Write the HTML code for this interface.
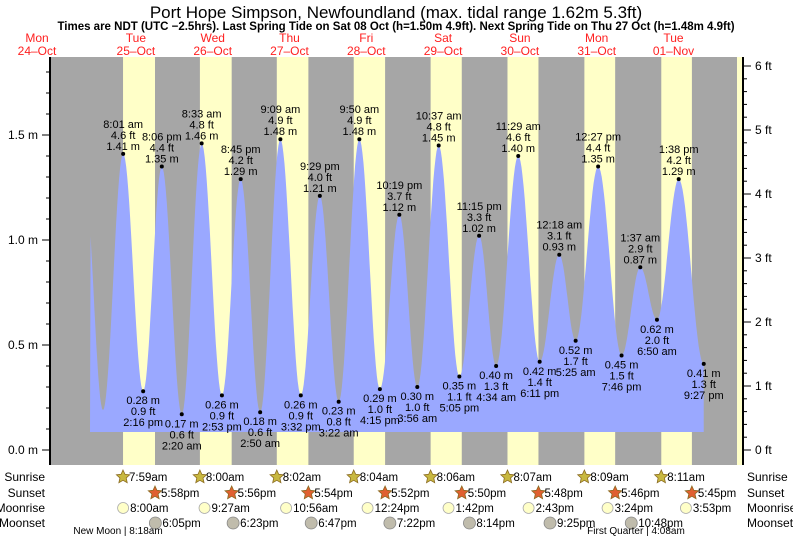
<!DOCTYPE html>
<html><head><meta charset="utf-8"><style>
body{margin:0;background:#fff;}
svg{display:block;font-family:"Liberation Sans",sans-serif;}
</style></head><body>
<svg id="c" width="793" height="539"></svg>
<script>
// tide extremes: day offset from 25-Oct, hour (decimal), height m, label time, ft
const tideDays=[-1,0,0,0,0,1,1,1,1,2,2,2,2,3,3,3,3,4,4,4,4,5,5,5,6,6,6,6,7,7,7,7];
const tideHours=[19.75,1.72,8.02,14.27,20.1,2.33,8.55,14.88,20.75,2.83,9.15,15.53,21.48,3.37,9.83,16.25,22.32,3.93,10.62,17.08,23.25,4.57,11.48,18.18,0.3,5.42,12.45,19.77,1.62,6.83,13.63,21.45];
const tideHeights=[1.33,0.19,1.41,0.28,1.35,0.17,1.46,0.26,1.29,0.18,1.48,0.26,1.21,0.23,1.48,0.29,1.12,0.30,1.45,0.35,1.02,0.40,1.40,0.42,0.93,0.52,1.35,0.45,0.87,0.62,1.29,0.41];
const tideTimes=["","","8:01 am","2:16 pm","8:06 pm","2:20 am","8:33 am","2:53 pm","8:45 pm","2:50 am","9:09 am","3:32 pm","9:29 pm","3:22 am","9:50 am","4:15 pm","10:19 pm","3:56 am","10:37 am","5:05 pm","11:15 pm","4:34 am","11:29 am","6:11 pm","12:18 am","5:25 am","12:27 pm","7:46 pm","1:37 am","6:50 am","1:38 pm","9:27 pm"];
const tideFt=["","","4.6","0.9","4.4","0.6","4.8","0.9","4.2","0.6","4.9","0.9","4.0","0.8","4.9","1.0","3.7","1.0","4.8","1.1","3.3","1.3","4.6","1.4","3.1","1.7","4.4","1.5","2.9","2.0","4.2","1.3"];
const dayNames=["Mon","Tue","Wed","Thu","Fri","Sat","Sun","Mon","Tue"];
const dayDates=["24\u2013Oct","25\u2013Oct","26\u2013Oct","27\u2013Oct","28\u2013Oct","29\u2013Oct","30\u2013Oct","31\u2013Oct","01\u2013Nov"];
const sunriseH=[7.98,8.0,8.03,8.07,8.1,8.12,8.15,8.18];
const sunriseL=["7:59am","8:00am","8:02am","8:04am","8:06am","8:07am","8:09am","8:11am"];
const sunsetH=[17.97,17.93,17.9,17.87,17.83,17.8,17.77,17.75];
const sunsetL=["5:58pm","5:56pm","5:54pm","5:52pm","5:50pm","5:48pm","5:46pm","5:45pm"];
const moonriseH=[8.0,9.45,10.93,12.4,13.7,14.72,15.4,15.88];
const moonriseL=["8:00am","9:27am","10:56am","12:24pm","1:42pm","2:43pm","3:24pm","3:53pm"];
const moonsetH=[18.08,18.38,18.78,19.37,20.23,21.42,22.8];
const moonsetL=["6:05pm","6:23pm","6:47pm","7:22pm","8:14pm","9:25pm","10:48pm"];

const X0=97.5,DAY=76.8;
const tx=(d,h)=>X0+(d+h/24)*DAY;
const ym=h=>450-h*210;
const ns="http://www.w3.org/2000/svg";
const svg=document.getElementById('c');
function mk(t,a,p){const e=document.createElementNS(ns,t);for(const k in a)e.setAttribute(k,a[k]);(p||svg).appendChild(e);return e;}
function txt(s,x,y,a){const e=mk('text',Object.assign({x:x,y:y,'font-size':11,fill:'#000'},a||{}));e.textContent=s;return e;}

// background plot
const PL=50,PR=743,PT=57,PB=465;
const bg=mk('rect',{x:PL,y:PT,width:737-PL,height:PB-PT,fill:'#a6a6a6'});

const ry=mk('rect',{x:737,y:PT,width:PR-737,height:PB-PT,fill:'#ffffc8'});

for(let i=0;i<sunriseH.length;i++){
  const r=mk('rect',{x:tx(i,sunriseH[i]),y:PT,width:tx(i,sunsetH[i])-tx(i,sunriseH[i]),height:PB-PT,fill:'#ffffc8'});
  
}
// tide curve
const xs=tideDays.map((d,i)=>tx(d,tideHours[i]));
let pts=[];
const xStart=90,xEnd=xs[xs.length-1];
for(let i=0;i<xs.length-1;i++){
  for(let s=0;s<=20;s++){
    const f=s/20,x=xs[i]+(xs[i+1]-xs[i])*f;
    if(x<xStart) continue;
    const h=tideHeights[i]+(tideHeights[i+1]-tideHeights[i])*(1-Math.cos(Math.PI*f))/2;
    pts.push([x,ym(h)]);
  }
}
const base=432;
let d='M'+xStart+','+base+' '+pts.map(p=>'L'+p[0].toFixed(1)+','+p[1].toFixed(1)).join(' ')+' L'+xEnd+','+base+'Z';
const area=mk('path',{d:d,fill:'#9aa8ff'});


// labels
for(let i=2;i<xs.length;i++){
  const x=xs[i],y=ym(tideHeights[i]);
  const dot=mk('circle',{cx:x,cy:y,r:2,fill:'#000'});
  
  const hi=tideHeights[i]>tideHeights[i-1];
  const m=tideHeights[i].toFixed(2)+' m',f=tideFt[i]+' ft';
  const g=mk('g',{'text-anchor':'middle'});
  
  if(hi){txt(tideTimes[i],x,y-27,{}).remove();g.appendChild(txt(tideTimes[i],x,y-26));g.appendChild(txt(f,x,y-15));g.appendChild(txt(m,x,y-4));}
  else{g.appendChild(txt(m,x,y+13));g.appendChild(txt(f,x,y+24));g.appendChild(txt(tideTimes[i],x,y+35));}
}
// axes
const ax=mk('g',{});
mk('line',{x1:PL,y1:PT,x2:PL,y2:PB,stroke:'#000','stroke-width':2},ax);
for(let v=0;v<=1.9;v+=0.1){const y=ym(v);if(y<PT)break;mk('line',{x1:PL-(Math.round(v*10)%5==0?8:4),y1:y,x2:PL,y2:y,stroke:'#000'},ax);}
[0,0.5,1.0,1.5].forEach(v=>{const t=txt(v.toFixed(1)+' m',PL-12,ym(v)+4,{'text-anchor':'end','font-size':12});ax.appendChild(t);});
const ax2=mk('g',{});
mk('line',{x1:PR,y1:PT,x2:PR,y2:PB,stroke:'#000','stroke-width':2},ax2);
for(let k=0;k<=31;k++){const y=450-k*0.2*64;if(y<PT)break;mk('line',{x1:PR,y1:y,x2:PR+(k%5==0?8:4),y2:y,stroke:'#000'},ax2);}
for(let k=0;k<=6;k++){ax2.appendChild(txt(k+' ft',PR+12,450-k*64+4,{'font-size':12}));}

// titles
const t1=txt('Port Hope Simpson, Newfoundland (max. tidal range 1.62m 5.3ft)',396,18,{'text-anchor':'middle','font-size':17});

const t2=txt('Times are NDT (UTC \u22122.5hrs). Last Spring Tide on Sat 08 Oct (h=1.50m 4.9ft). Next Spring Tide on Thu 27 Oct (h=1.48m 4.9ft)',396,30,{'text-anchor':'middle','font-size':11.5,'font-weight':'bold'});

for(let i=0;i<dayNames.length;i++){
  const x=tx(i-1,12)+ (i==0?-0:0);
  const g=mk('g',{'text-anchor':'middle',fill:'#ff2020'});
  
  g.appendChild(txt(dayNames[i],i==0?37:x,42,{fill:'#ff2020','font-size':12}));
  g.appendChild(txt(dayDates[i],i==0?37:x,55,{fill:'#ff2020','font-size':12}));
}
// bottom rows
const rows=[['Sunrise',481],['Sunset',497],['Moonrise',512],['Moonset',527]];
rows.forEach(r=>{
  const a=txt(r[0],45,r[1],{'text-anchor':'end','font-size':12});
  const b=txt(r[0],747,r[1],{'font-size':12});
});
function star(x,y,fill){const p=[];for(let k=0;k<10;k++){const a=-Math.PI/2+k*Math.PI/5,rr=k%2?3.3:7;p.push((x+rr*Math.cos(a)).toFixed(1)+','+(y+rr*Math.sin(a)).toFixed(1));}return mk('polygon',{points:p.join(' '),fill:fill,stroke:'#8a6a20','stroke-width':0.8});}
for(let i=0;i<sunriseH.length;i++){
  let x=tx(i,sunriseH[i]);
  const s=star(x,477,'#c8b840');
  txt(sunriseL[i],x+6,481,{'font-size':11.5});
  x=tx(i,sunsetH[i]);
  const s2=star(x,493,'#e06030');
  txt(sunsetL[i],x+6,497,{'font-size':11.5});
  x=tx(i,moonriseH[i]);
  const c=mk('circle',{cx:x,cy:508,r:5.5,fill:'#ffffc8',stroke:'#aaa','stroke-width':0.8});
  txt(moonriseL[i],x+7,512,{'font-size':11.5});
}
for(let i=0;i<moonsetH.length;i++){
  const x=tx(i,moonsetH[i]);
  const c=mk('circle',{cx:x,cy:523,r:6,fill:'#c0bcac',stroke:'#888','stroke-width':0.8});
  txt(moonsetL[i],x+7,527,{'font-size':11.5});
}
const m1=txt('New Moon | 8:18am',118,534,{'text-anchor':'middle','font-size':10});
const m2=txt('First Quarter | 4:08am',636,534,{'text-anchor':'middle','font-size':10});
</script>
</body></html>
